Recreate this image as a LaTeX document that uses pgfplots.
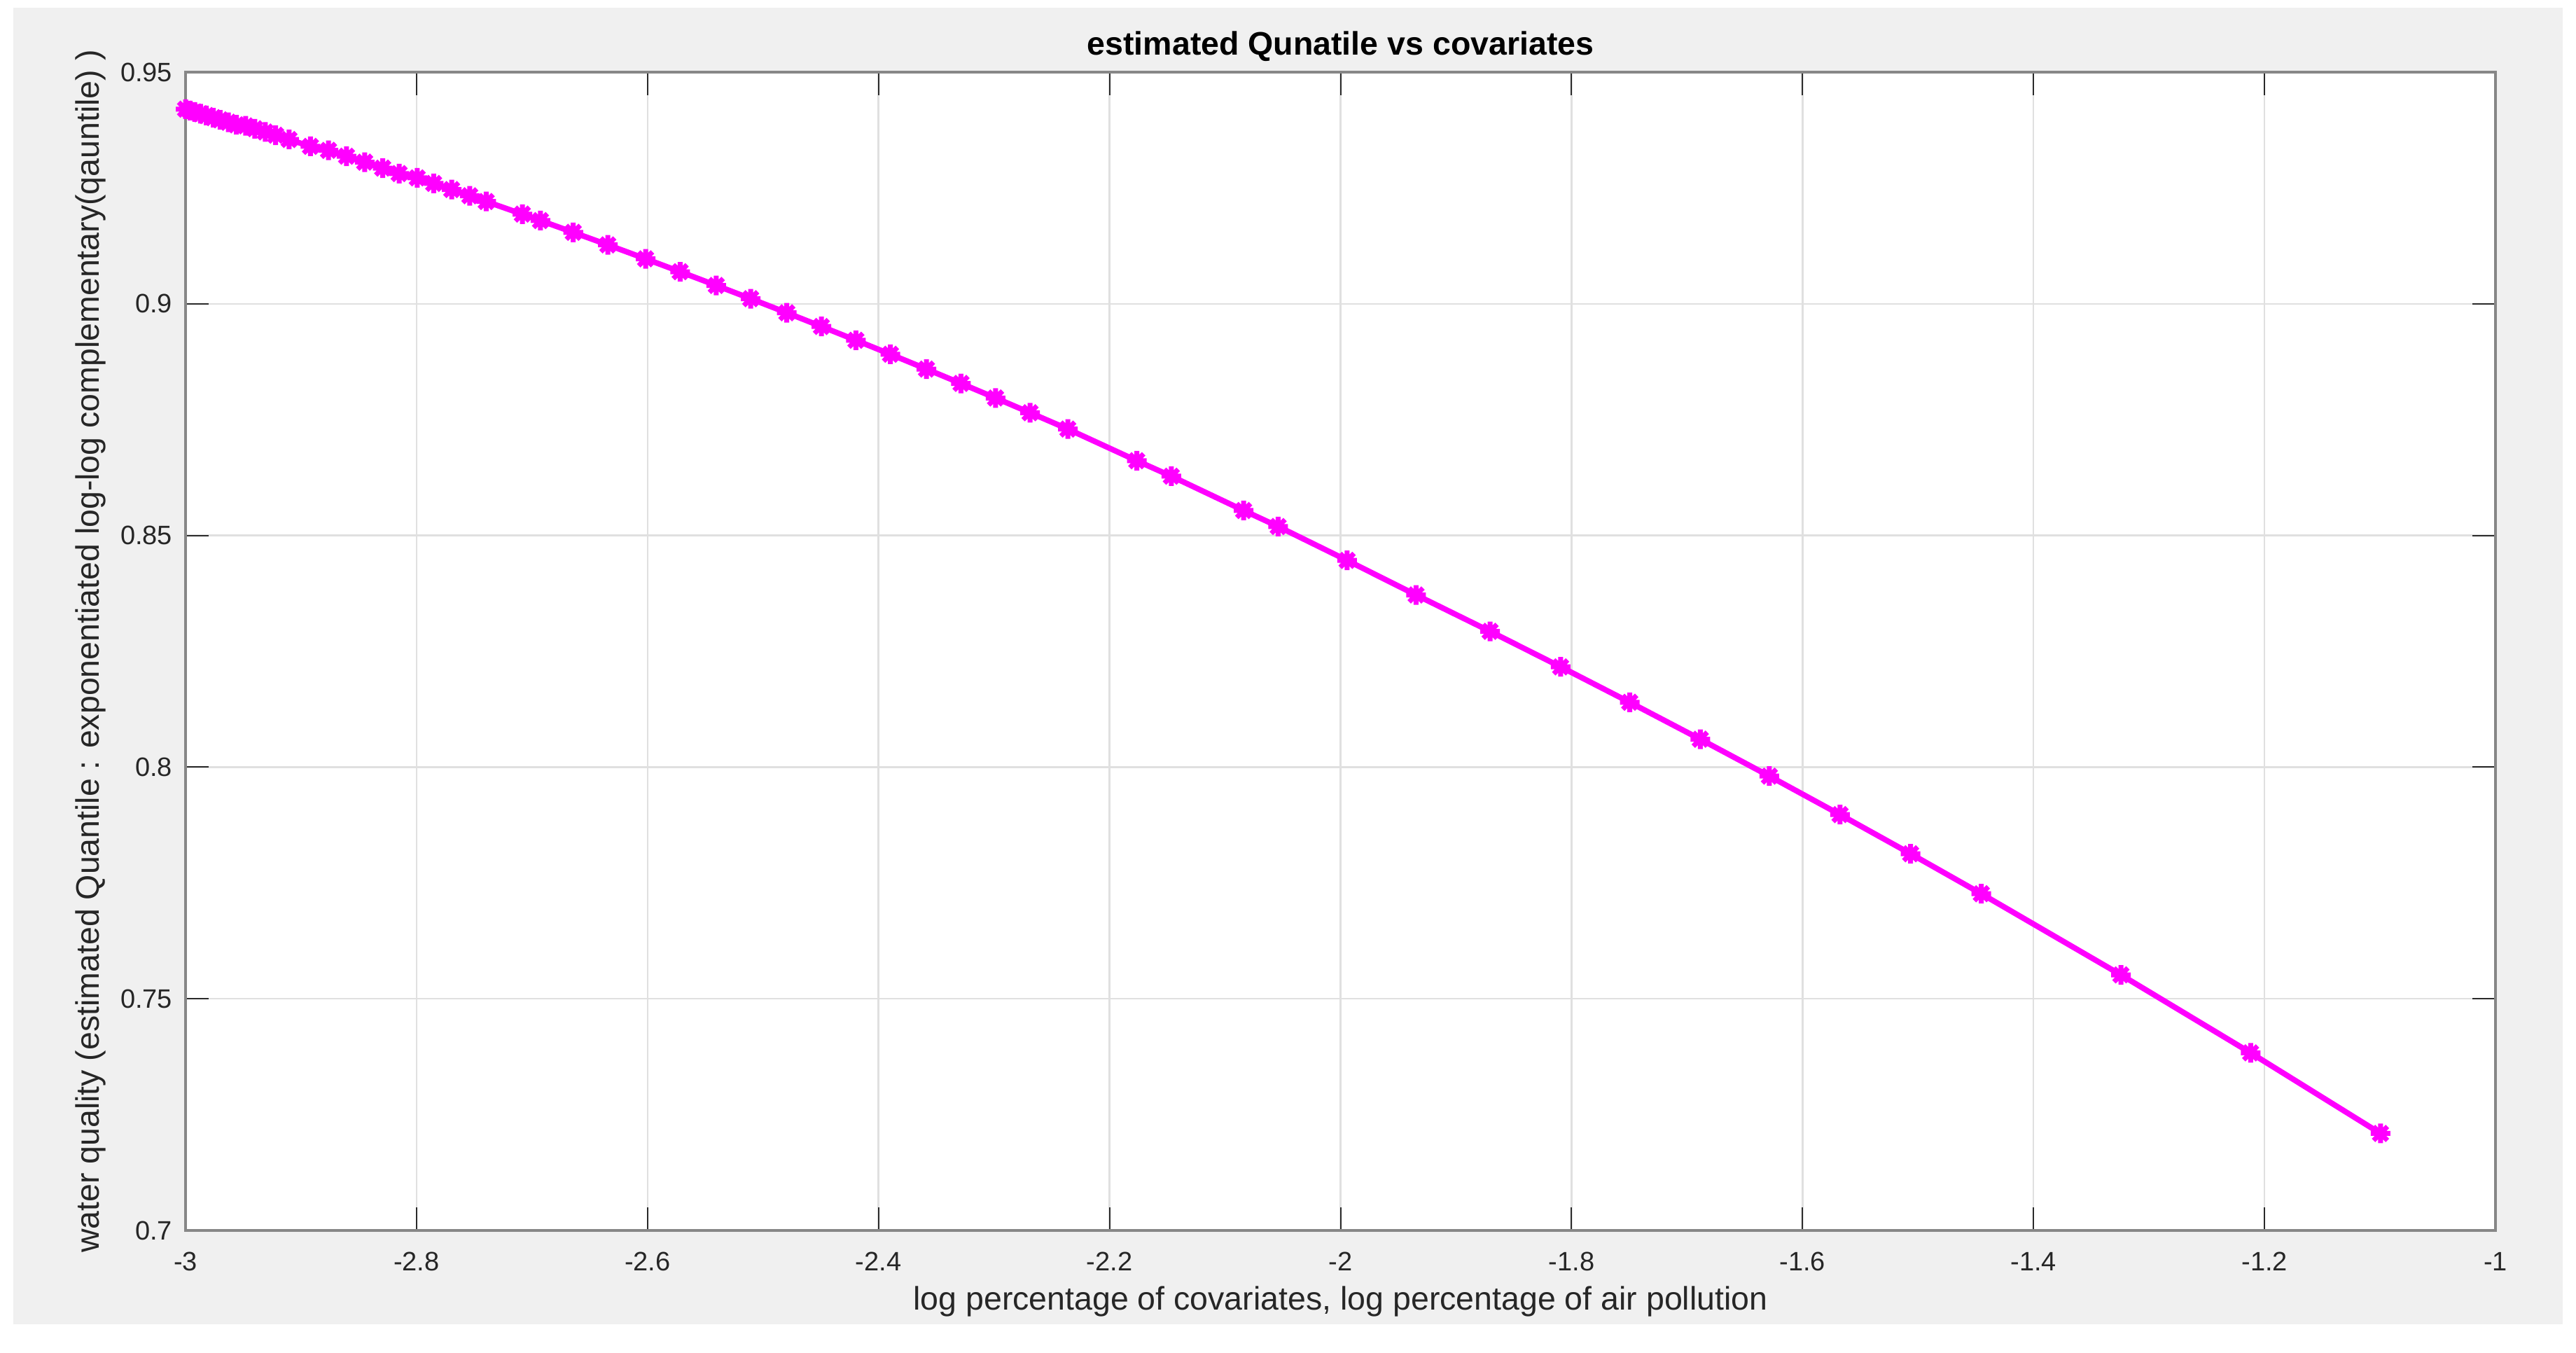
\documentclass[border=0pt]{standalone}
\usepackage{pgfplots}
\pgfplotsset{compat=1.18}
\usepackage{fontspec}
\setmainfont{Liberation Sans}
\definecolor{figbg}{HTML}{F0F0F0}
\definecolor{axline}{HTML}{878787}
\definecolor{gridc}{HTML}{E0E0E0}
\definecolor{tickc}{HTML}{2A2A2A}
\definecolor{mag}{HTML}{FF00FF}
\pgfdeclareplotmark{star8}{%
  \pgfpathmoveto{\pgfqpoint{-\pgfplotmarksize}{0pt}}%
  \pgfpathlineto{\pgfqpoint{\pgfplotmarksize}{0pt}}%
  \pgfpathmoveto{\pgfqpoint{0pt}{-\pgfplotmarksize}}%
  \pgfpathlineto{\pgfqpoint{0pt}{\pgfplotmarksize}}%
  \pgfpathmoveto{\pgfqpoint{-0.7071\pgfplotmarksize}{-0.7071\pgfplotmarksize}}%
  \pgfpathlineto{\pgfqpoint{0.7071\pgfplotmarksize}{0.7071\pgfplotmarksize}}%
  \pgfpathmoveto{\pgfqpoint{-0.7071\pgfplotmarksize}{0.7071\pgfplotmarksize}}%
  \pgfpathlineto{\pgfqpoint{0.7071\pgfplotmarksize}{-0.7071\pgfplotmarksize}}%
  \pgfusepathqstroke}
\pgfplotstableread{
x y
-3.0000 0.94200
-2.9960 0.94170
-2.9920 0.94140
-2.9870 0.94102
-2.9820 0.94063
-2.9760 0.94017
-2.9700 0.93971
-2.9630 0.93918
-2.9560 0.93863
-2.9480 0.93841
-2.9400 0.93779
-2.9310 0.93709
-2.9220 0.93638
-2.9104 0.93546
-2.8919 0.93398
-2.8762 0.93312
-2.8606 0.93185
-2.8449 0.93057
-2.8293 0.92928
-2.8151 0.92810
-2.7994 0.92718
-2.7852 0.92598
-2.7696 0.92466
-2.7539 0.92331
-2.7397 0.92208
-2.7084 0.91935
-2.6927 0.91796
-2.6643 0.91542
-2.6344 0.91272
-2.6017 0.90971
-2.5718 0.90692
-2.5405 0.90396
-2.5107 0.90110
-2.4794 0.89806
-2.4495 0.89511
-2.4196 0.89213
-2.3897 0.88911
-2.3585 0.88591
-2.3286 0.88281
-2.2987 0.87967
-2.2688 0.87649
-2.2361 0.87297
-2.1764 0.86613
-2.1465 0.86279
-2.0839 0.85539
-2.0540 0.85193
-1.9943 0.84462
-1.9346 0.83716
-1.8705 0.82930
-1.8094 0.82164
-1.7496 0.81399
-1.6885 0.80602
-1.6287 0.79806
-1.5675 0.78975
-1.5064 0.78130
-1.4452 0.77267
-1.3243 0.75516
-1.2120 0.73833
-1.0996 0.72094
}\datatable
\begin{document}
\begin{tikzpicture}
\useasboundingbox (0,0) rectangle (735.8pt,386.2pt);
\fill[figbg] (3.75pt,8pt) rectangle (732pt,383.9pt);
\begin{axis}[
  at={(53pt,34.8pt)}, anchor=south west,
  scale only axis, width=659.8pt, height=330.8pt,
  xmin=-3, xmax=-1, ymin=0.7, ymax=0.95,
  xtick={-3,-2.8,-2.6,-2.4,-2.2,-2,-1.8,-1.6,-1.4,-1.2,-1},
  ytick={0.7,0.75,0.8,0.85,0.9,0.95},
  xticklabels={-3,-2.8,-2.6,-2.4,-2.2,-2,-1.8,-1.6,-1.4,-1.2,-1},
  yticklabels={0.7,0.75,0.8,0.85,0.9,0.95},
  grid=major,
  major grid style={gridc, line width=0.5pt},
  axis line style={axline, line width=0.9pt},
  axis background/.style={fill=white},
  tick style={tickc, line width=0.4pt},
  major tick length=6.6pt,
  tick align=inside,
  xtick pos=both, ytick pos=both,
  ticklabel style={font=\fontsize{7.6}{9}\selectfont, text=black!85, inner sep=0pt},
  xticklabel style={yshift=-6.0pt},
  yticklabel style={xshift=-3.6pt},
  every axis title shift=0pt,
  title={estimated Qunatile vs covariates},
  title style={font=\bfseries\fontsize{9.3}{11}\selectfont, at={(axis description cs:0.5,1.0224)}, anchor=center, inner sep=0pt},
  xlabel={log percentage of covariates, log percentage of air pollution},
  ylabel={water quality (estimated Quantile : exponentiated log-log complementary(qauntile) )},
  label style={font=\fontsize{9.3}{11}\selectfont, text=black!85, inner sep=0pt},
  xlabel style={at={(axis description cs:0.5,-0.0614)}, anchor=center},
  ylabel style={at={(axis description cs:-0.0412,0.5)}, anchor=center},
]
\addplot[mag, line width=1.6pt, mark=star8, mark size=2.8pt, mark options={line width=1.4pt}] table[x=x,y=y] {\datatable};
\end{axis}
\end{tikzpicture}
\end{document}
